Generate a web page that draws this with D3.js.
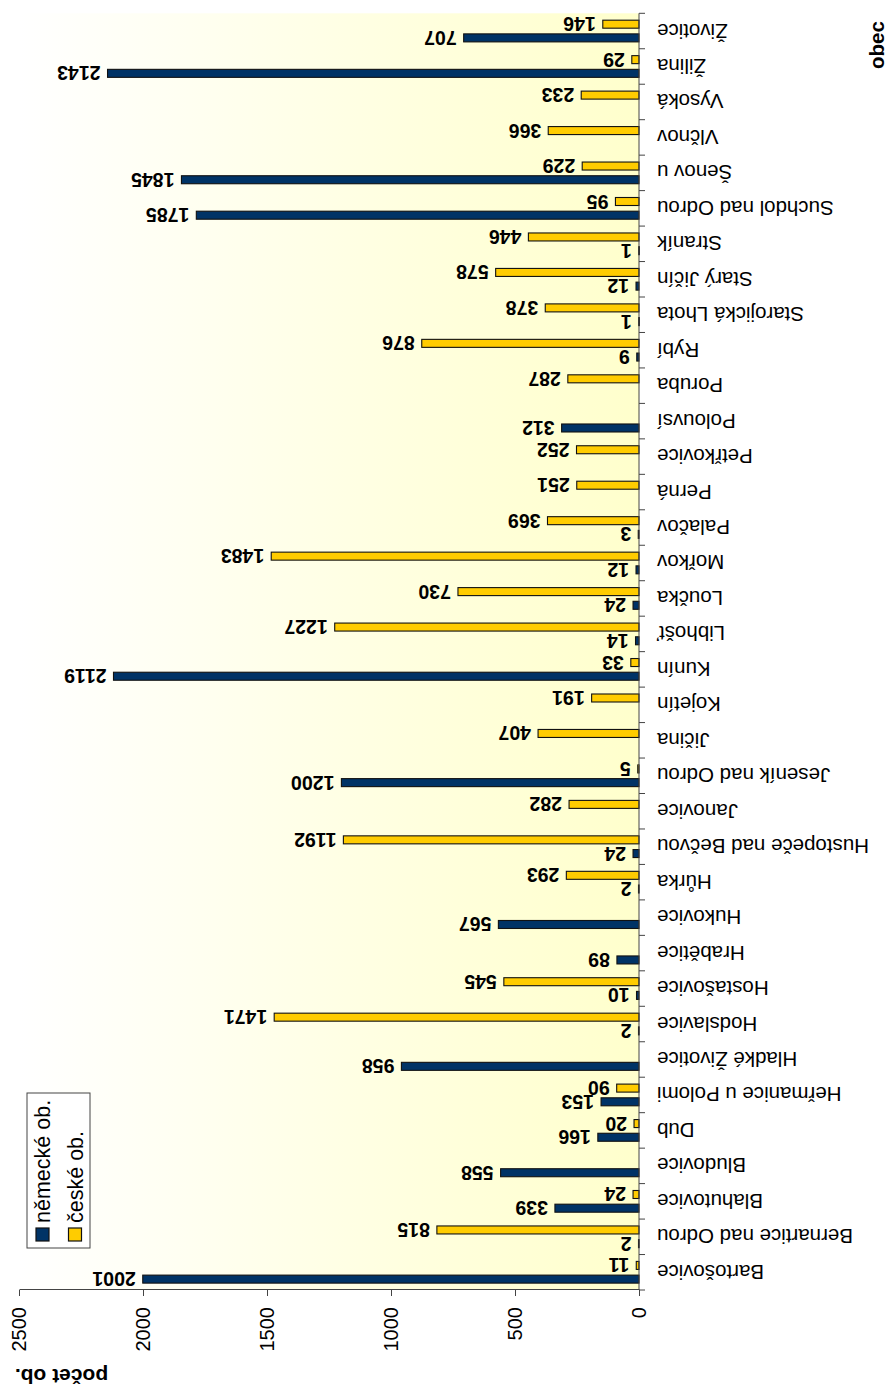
<!DOCTYPE html>
<html>
<head>
<meta charset="utf-8">
<script src="https://cdn.jsdelivr.net/npm/d3@7"></script>
<style>
  html, body { margin: 0; padding: 0; background: #ffffff; }
  svg { display: block; font-family: "Liberation Sans", Arial, sans-serif; }
</style>
</head>
<body>
<svg id="chart" width="889" height="1386"></svg>
<script>
// Obce a počet obyvatel podle národnosti
const categories = ["Bartošovice","Bernartice nad Odrou","Blahutovice","Bludovice","Dub",
  "Heřmanice u Polomi","Hladké Životice","Hodslavice","Hostašovice","Hrabětice","Hukovice",
  "Hůrka","Hustopeče nad Bečvou","Janovice","Jeseník nad Odrou","Jičina","Kojetín","Kunín",
  "Libhošť","Loučka","Mořkov","Palačov","Perná","Petřkovice","Polouvsí","Poruba","Rybí",
  "Starojická Lhota","Starý Jičín","Straník","Suchdol nad Odrou","Šenov u","Vlčnov","Vysoká",
  "Žilina","Životice"];

const germanPop = [2001, 2, 339, 558, 166, 153, 958, 2, 10, 89, 567, 2, 24, null, 1200, null,
  null, 2119, 14, 24, 12, 3, null, null, 312, null, 9, 1, 12, 1, 1785, 1845, null, null, 2143, 707];

const czechPop = [11, 815, 24, null, 20, 90, null, 1471, 545, null, null, 293, 1192, 282, 5, 407,
  191, 33, 1227, 730, 1483, 369, 251, 252, null, 287, 876, 378, 578, 446, 95, 229, 366, 233, 29, 146];

const valueTicks = [0, 500, 1000, 1500, 2000, 2500];

const seriesNames = ["německé ob.", "české ob."];
const seriesColors = ["#003366", "#FFCC00"];

// The column chart is laid out in a 1386 x 889 frame and turned a quarter turn.
const W = 1386, H = 889;
const svg = d3.select("#chart");
const defs = svg.append("defs");
const grad = defs.append("linearGradient").attr("id", "plotFill")
  .attr("x1", 0).attr("y1", 0).attr("x2", 0).attr("y2", 1);
grad.append("stop").attr("offset", "0%").attr("stop-color", "#ffffff");
grad.append("stop").attr("offset", "100%").attr("stop-color", "#FFFFCC");

const g = svg.append("g").attr("transform", `translate(0,${W}) rotate(-90)`);

const x = d3.scaleBand().domain(categories).range([96, 1372.7]).paddingInner(0).paddingOuter(0);
const y = d3.scaleLinear().domain([0, 2500]).range([639, 19]);

const bw = x.bandwidth();
const barW = 8;
const offsets = [-6.85, 6.85];

// plot area
g.append("rect")
  .attr("x", x.range()[0]).attr("y", y(2500))
  .attr("width", x.range()[1] - x.range()[0]).attr("height", y(0) - y(2500))
  .attr("fill", "url(#plotFill)");

// bars and value labels
[germanPop, czechPop].forEach((vals, si) => {
  const data = categories.map((c, i) => ({ c, v: vals[i] })).filter(d => d.v != null);
  const cx = d => x(d.c) + bw / 2 + offsets[si];
  g.append("g").selectAll("rect").data(data).join("rect")
    .attr("x", d => cx(d) - barW / 2)
    .attr("y", d => y(d.v))
    .attr("width", barW)
    .attr("height", d => Math.max(0.6, y(0) - y(d.v)))
    .attr("fill", seriesColors[si])
    .attr("stroke", "#111")
    .attr("stroke-width", 1.1);
  g.append("g").selectAll("text").data(data).join("text")
    .attr("transform", d => `translate(${cx(d)},${y(d.v) - 7}) rotate(-90)`)
    .attr("text-anchor", "start")
    .attr("dominant-baseline", "central")
    .attr("font-size", 19.5)
    .attr("font-weight", "bold")
    .attr("fill", "#000")
    .text(d => d.v);
});

// value axis
const yAxis = g.append("g").attr("transform", `translate(${x.range()[0]},0)`)
  .call(d3.axisLeft(y).tickValues(valueTicks).tickFormat(d3.format("d"))
    .tickSize(6).tickSizeOuter(0).tickPadding(11));
yAxis.select(".domain").attr("stroke", "#444");
yAxis.selectAll(".tick line").attr("stroke", "#444");
yAxis.selectAll(".tick text").attr("font-size", 20).attr("fill", "#000")
  .attr("font-family", "Liberation Sans, Arial, sans-serif");

// category axis
const catAxis = g.append("g");
catAxis.append("line")
  .attr("x1", x.range()[0]).attr("x2", x.range()[1])
  .attr("y1", y(0)).attr("y2", y(0))
  .attr("stroke", "#444");
const bounds = categories.map(c => x(c)).concat([x.range()[1]]);
catAxis.selectAll("line.tick").data(bounds).join("line")
  .attr("class", "tick")
  .attr("x1", d => d).attr("x2", d => d)
  .attr("y1", y(0)).attr("y2", y(0) + 6)
  .attr("stroke", "#444");
catAxis.selectAll("text").data(categories).join("text")
  .attr("transform", c => `translate(${x(c) + bw / 2},${y(0) + 18}) rotate(-90)`)
  .attr("text-anchor", "end")
  .attr("dominant-baseline", "central")
  .attr("font-size", 20.5)
  .attr("fill", "#000")
  .text(c => c);

// axis titles
g.append("text")
  .attr("x", 1341).attr("y", 876)
  .attr("text-anchor", "middle").attr("dominant-baseline", "central")
  .attr("font-size", 20.5).attr("font-weight", "bold")
  .text("obec");
g.append("text")
  .attr("transform", `translate(10,61.5) rotate(-90)`)
  .attr("text-anchor", "middle").attr("dominant-baseline", "central")
  .attr("font-size", 21).attr("font-weight", "bold")
  .text("počet ob.");

// legend
const legend = g.append("g");
legend.append("rect")
  .attr("x", 138).attr("y", 27).attr("width", 155).attr("height", 63)
  .attr("fill", "#fff").attr("stroke", "#444").attr("stroke-width", 1);
const rowsY = [43, 75.5];
seriesNames.forEach((name, i) => {
  legend.append("rect")
    .attr("x", 145).attr("y", rowsY[i] - 7)
    .attr("width", 13).attr("height", 13)
    .attr("fill", seriesColors[i]).attr("stroke", "#111").attr("stroke-width", 1.2);
  legend.append("text")
    .attr("x", 163).attr("y", rowsY[i])
    .attr("dominant-baseline", "central")
    .attr("font-size", 21.5)
    .text(name);
});
</script>
</body>
</html>
